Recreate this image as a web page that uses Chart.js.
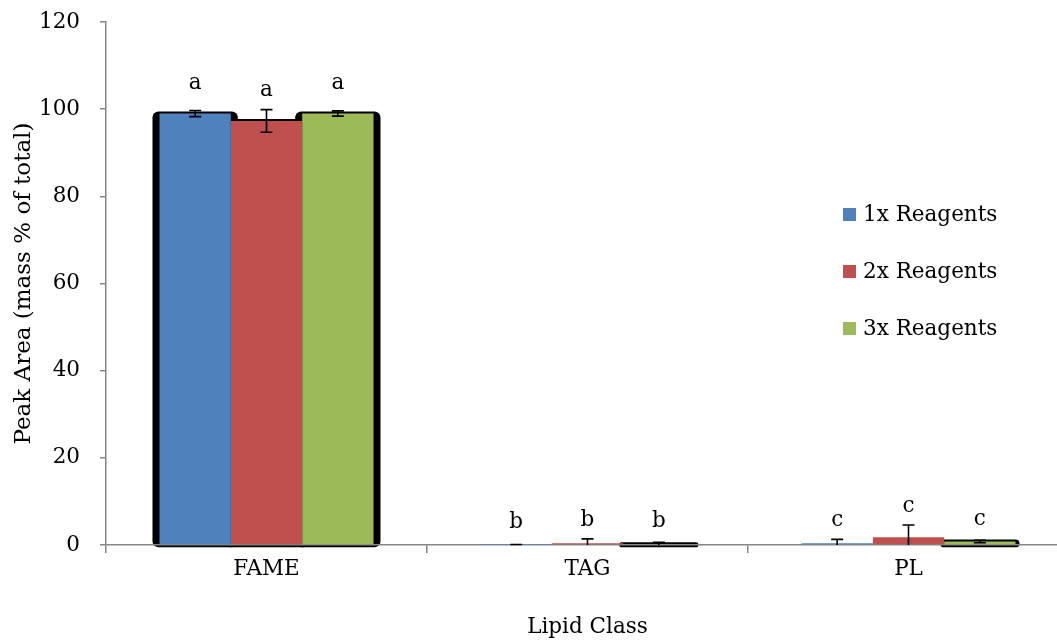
<!DOCTYPE html>
<html>
<head>
<meta charset="utf-8">
<script src="https://cdn.jsdelivr.net/npm/chart.js@4.4.1/dist/chart.umd.min.js"></script>
<style>
  html, body { margin: 0; padding: 0; background: #ffffff; overflow: hidden; }
  #wrap { width: 1057px; height: 643px; overflow: hidden; }
  #c { display: block; }
</style>
</head>
<body>
<div id="wrap"><canvas id="c" width="1069" height="643"></canvas></div>
<script>
// Lipid classes on the x axis
const categories = ['FAME', 'TAG', 'PL'];

// Peak area (mass % of total) per reagent level
const reagents1x = [99.0, 0.05, 0.4];
const reagents2x = [97.3, 0.4, 1.8];
const reagents3x = [99.0, 0.2, 0.8];

// Standard deviations for the error bars
const err1x = [0.7, 0.05, 0.9];
const err2x = [2.6, 1.0, 2.8];
const err3x = [0.6, 0.4, 0.3];

// Significance letters printed over each bar
const letters1x = ['a', 'b', 'c'];
const letters2x = ['a', 'b', 'c'];
const letters3x = ['a', 'b', 'c'];

const seriesLabels = ['1x Reagents', '2x Reagents', '3x Reagents'];
const seriesColors = ['#4F81BD', '#C0504D', '#9BBB59'];

const yTicks = [0, 20, 40, 60, 80, 100, 120];

const FONT = "'DejaVu Serif', serif";
const FONT_SIZE = 21.5;
const AXIS_GREY = '#868686';

const values = [reagents1x, reagents2x, reagents3x];
const errors = [err1x, err2x, err3x];
const letters = [letters1x, letters2x, letters3x];

// Dark drop shadow behind the FAME group and the 3x series
const shadowPlugin = {
  id: 'barShadow',
  beforeDraw(chart) {
    const ctx = chart.ctx;
    ctx.save();
    ctx.fillStyle = '#000000';
    ctx.filter = 'blur(0.6px)';
    chart.data.datasets.forEach((ds, di) => {
      const meta = chart.getDatasetMeta(di);
      meta.data.forEach((bar, i) => {
        if (!(i === 0 || di === 2)) return;
        const pad = i === 0 ? 7 : 4;
        const left = bar.x - bar.width / 2 - pad;
        const right = bar.x + bar.width / 2 + pad;
        const top = bar.y - 2;
        const bottom = bar.base + 3;
        ctx.beginPath();
        ctx.roundRect(left, top, right - left, bottom - top, Math.min(6, (bottom - top) / 2));
        ctx.fill();
      });
    });
    ctx.restore();
  }
};

// Error bars and significance letters
const annotatePlugin = {
  id: 'annotate',
  afterDatasetsDraw(chart) {
    const ctx = chart.ctx;
    const y = chart.scales.y;
    ctx.save();
    chart.data.datasets.forEach((ds, di) => {
      const meta = chart.getDatasetMeta(di);
      meta.data.forEach((bar, i) => {
        const v = values[di][i];
        const e = errors[di][i];
        const yTop = y.getPixelForValue(v + e);
        const yBot = y.getPixelForValue(Math.max(0, v - e));
        ctx.strokeStyle = '#000000';
        ctx.lineWidth = 1.6;
        ctx.beginPath();
        ctx.moveTo(bar.x, yTop);
        ctx.lineTo(bar.x, yBot);
        ctx.moveTo(bar.x - 6, yTop);
        ctx.lineTo(bar.x + 6, yTop);
        if (v - e > 0) {
          ctx.moveTo(bar.x - 6, yBot);
          ctx.lineTo(bar.x + 6, yBot);
        }
        ctx.stroke();

        const gap = v >= 1 ? 25 : 17;
        ctx.fillStyle = '#000000';
        ctx.font = FONT_SIZE + 'px ' + FONT;
        ctx.textAlign = 'center';
        ctx.textBaseline = 'alphabetic';
        ctx.fillText(letters[di][i], bar.x, bar.y - gap);
      });
    });
    ctx.restore();
  }
};

// Legend placed inside the plot, to the right
const legendPlugin = {
  id: 'sideLegend',
  afterDraw(chart) {
    const ctx = chart.ctx;
    ctx.save();
    ctx.font = FONT_SIZE + 'px ' + FONT;
    ctx.textAlign = 'left';
    ctx.textBaseline = 'middle';
    chart.data.datasets.forEach((ds, di) => {
      const cy = 214.5 + di * 57;
      ctx.fillStyle = ds.backgroundColor;
      ctx.fillRect(843, cy - 6.5, 13, 13);
      ctx.fillStyle = '#000000';
      ctx.fillText(ds.label, 863, cy + 1);
    });
    ctx.restore();
  }
};

new Chart(document.getElementById('c'), {
  type: 'bar',
  data: {
    labels: categories,
    datasets: values.map((vals, di) => ({
      label: seriesLabels[di],
      data: vals,
      backgroundColor: seriesColors[di],
      borderWidth: 0,
      barPercentage: 1.0,
      categoryPercentage: 0.6667
    }))
  },
  options: {
    responsive: false,
    animation: false,
    events: [],
    layout: { padding: { top: 22, left: 0, right: 0, bottom: 0 } },
    plugins: {
      legend: { display: false },
      tooltip: { enabled: false }
    },
    scales: {
      x: {
        type: 'category',
        position: 'bottom',
        z: 1,
        offset: true,
        grid: {
          offset: true,
          drawOnChartArea: false,
          drawTicks: true,
          tickLength: 8,
          color: AXIS_GREY,
          lineWidth: 1.5
        },
        border: { color: AXIS_GREY, width: 1.5 },
        ticks: {
          padding: 4,
          color: '#000000',
          font: { family: FONT, size: FONT_SIZE },
          maxRotation: 0,
          autoSkip: false
        },
        title: {
          display: true,
          text: 'Lipid Class',
          color: '#000000',
          font: { family: FONT, size: FONT_SIZE },
          padding: { top: 3, bottom: 3 }
        },
        afterFit(scale) { scale.height = 98; }
      },
      y: {
        min: 0,
        max: 120,
        afterBuildTicks(scale) {
          scale.ticks = yTicks.map(v => ({ value: v }));
        },
        grid: {
          drawOnChartArea: false,
          drawTicks: true,
          tickLength: 6,
          color: AXIS_GREY,
          lineWidth: 1.5
        },
        border: { color: AXIS_GREY, width: 1.5 },
        ticks: {
          padding: 20,
          color: '#000000',
          font: { family: FONT, size: FONT_SIZE }
        },
        title: {
          display: true,
          text: 'Peak Area (mass % of total)',
          color: '#000000',
          font: { family: FONT, size: 23 },
          padding: { top: 10, bottom: 10 }
        },
        afterFit(scale) {
          scale.width = 106;
          scale.paddingTop = 0;
          scale.paddingBottom = 0;
        }
      }
    }
  },
  plugins: [shadowPlugin, annotatePlugin, legendPlugin]
});
</script>
</body>
</html>
